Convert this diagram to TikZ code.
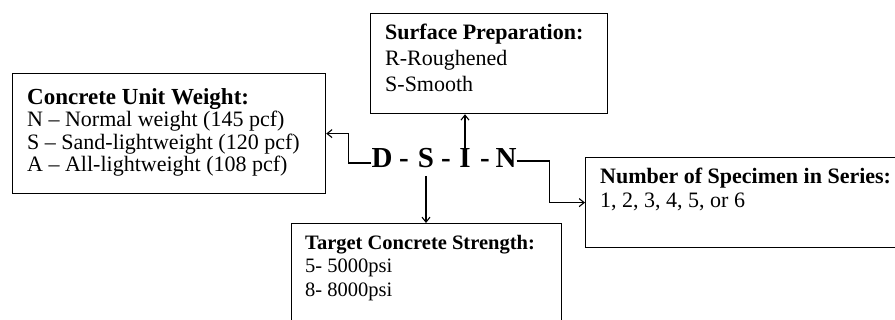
\documentclass[tikz,border=0pt]{standalone}
\usepackage{fontspec}
\setmainfont{Liberation Serif}
\usetikzlibrary{arrows.meta,positioning,calc}

\begin{document}
\begin{tikzpicture}[
  x=1pt, y=-1pt,
  box/.style={draw, line width=1.2pt, anchor=north west, inner sep=0pt},
  txt/.style={anchor=north west, inner sep=0pt, align=left,
              font=\fontsize{22}{#1}\selectfont},
  code/.style={anchor=base, inner sep=0pt, font=\fontsize{29}{29}\selectfont\bfseries},
  arr/.style={line width=1.1pt, -{Straight Barb[length=5pt,width=8pt]}}
]
\useasboundingbox (0,0) rectangle (895,320);
\clip (0,0) rectangle (895,320);

% boxes
\node[box, minimum width=313pt, minimum height=120pt] (cuw) at (12,73) {};
\node[box, minimum width=237pt, minimum height=100pt] (sp)  at (370,13) {};
\node[box, minimum width=330pt, minimum height=90pt]  (nos) at (585,157) {};
\node[box, minimum width=270pt, minimum height=120pt] (tcs) at (291,223) {};

% box texts
\node[txt=22.5] (cuwt) at (27,88)
  {{\fontsize{23}{22.5}\selectfont\textbf{Concrete Unit Weight:}}\\N -- Normal weight (145 pcf)\\S -- Sand-lightweight (120 pcf)\\A -- All-lightweight (108 pcf)};
\node[txt=26] (spt) at (385,24)
  {\textbf{Surface Preparation:}\\R-Roughened\\S-Smooth};
\node[txt=24] (nost) at (600,168)
  {\textbf{Number of Specimen in Series:}\\1, 2, 3, 4, 5, or 6};
\node[txt=23, font=\fontsize{20.5}{23.5}\selectfont] (tcst) at (305,235)
  {\textbf{Target Concrete Strength:}\\5- 5000psi\\8- 8000psi};

% designation
\node[code] (d)  at (382,168) {D};
\node[code] (h1) at (404,168) {-};
\node[code] (s)  at (426,168) {S};
\node[code] (h2) at (446,168) {-};
\node[code] (i)  at (465,168) {I};
\node[code] (h3) at (485,168) {-};
\node[code] (n)  at (506,168) {N};

% connectors
\draw[arr] ([yshift=5pt]d.base west) -- ++(-23,0) |- (cuw.east);
\draw[arr] (i.north) -- (i.north |- sp.south);
\draw[arr] ([yshift=-8pt]s.base) -- (s.base |- tcs.north);
\draw[arr] ([yshift=7pt]n.base east) -- ++(33,0) |- (nos.west);
\end{tikzpicture}
\end{document}
